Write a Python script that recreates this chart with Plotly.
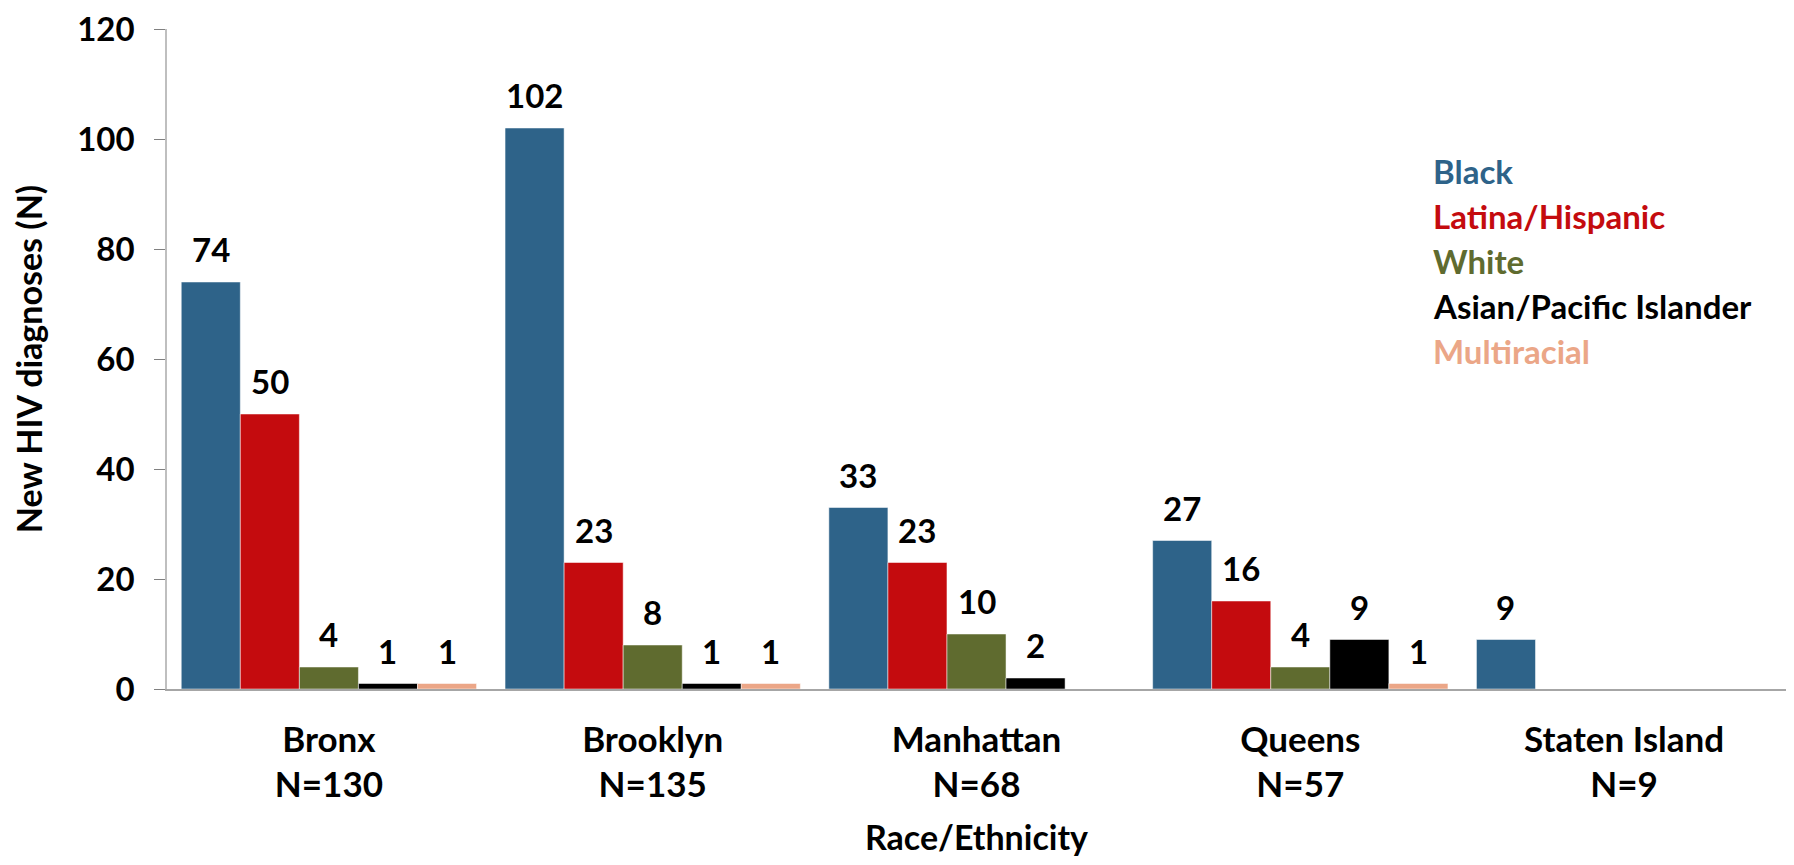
"""
New HIV diagnoses by borough and race/ethnicity - grouped bar chart.
"""
import plotly.graph_objects as go

# Data
boroughs = ['Bronx', 'Brooklyn', 'Manhattan', 'Queens', 'Staten Island']
borough_totals = [130, 135, 68, 57, 9]

series_names = ['Black', 'Latina/Hispanic', 'White', 'Asian/Pacific Islander', 'Multiracial']
black = [74, 102, 33, 27, 9]
latina = [50, 23, 23, 16, None]
white = [4, 8, 10, 4, None]
asian = [1, 1, 2, 9, None]
multiracial = [1, 1, None, 1, None]
series_values = [black, latina, white, asian, multiracial]

colors = ['#2E6389', '#C40B0E', '#5F6B2F', '#000000', '#EBA687']

FONT = 'Lato, Carlito, Calibri, sans-serif'
BARGAP = 0.088

fig = go.Figure()

for name, values, color in zip(series_names, series_values, colors):
    fig.add_trace(go.Bar(
        x=boroughs,
        y=values,
        name=name,
        marker=dict(color=color, line=dict(color='white', width=0.5)),
        showlegend=False,
    ))

# Value labels above bars (offset within each group)
annotations = []
n_series = len(series_names)
bar_w = (1 - BARGAP) / n_series
for j, values in enumerate(series_values):
    offset = -(1 - BARGAP) / 2 + bar_w * (j + 0.5)
    for i, v in enumerate(values):
        if v is None:
            continue
        annotations.append(dict(
            x=i + offset, y=v, xref='x', yref='y',
            text=f'<b>{v}</b>', showarrow=False, yshift=33,
            font=dict(family=FONT, size=33, color='black'),
        ))

# Coloured text legend
for k, (name, color) in enumerate(zip(series_names, colors)):
    annotations.append(dict(
        x=0.781, y=0.785 - k * 0.0682, xref='paper', yref='paper',
        xanchor='left', yanchor='middle',
        text=f'<b>{name}</b>', showarrow=False,
        font=dict(family=FONT, size=33, color=color),
    ))

fig.update_layout(
    barmode='group',
    bargap=BARGAP,
    bargroupgap=0,
    plot_bgcolor='white',
    paper_bgcolor='white',
    width=1778,
    height=849,
    margin=dict(l=159, r=0, t=21, b=168),
    font=dict(family=FONT, size=33, color='black'),
    annotations=annotations,
    xaxis=dict(
        tickmode='array',
        tickvals=boroughs,
        ticktext=[f'<b>{b}</b><br><b>N={n}</b>' for b, n in zip(boroughs, borough_totals)],
        showline=True, linecolor='#A6A6A6', linewidth=1.5,
        ticks='', ticklabelstandoff=19,
        tickfont=dict(family=FONT, size=35, color='black'),
        title=dict(text='<b>Race/Ethnicity</b>', standoff=42,
                   font=dict(family=FONT, size=34, color='black')),
        automargin=False,
    ),
    yaxis=dict(
        range=[0, 120], dtick=20,
        showgrid=False, zeroline=False,
        showline=True, linecolor='#BFBFBF', linewidth=1.5,
        ticks='outside', ticklen=11, tickcolor='#808080',
        ticklabelstandoff=13, ticklabeloverflow='allow',
        tickfont=dict(family=FONT, size=33, color='black'),
        tickprefix='<b>', ticksuffix='</b>',
        title=dict(text='<b>New HIV diagnoses (N)</b>', standoff=32,
                   font=dict(family=FONT, size=34, color='black')),
        automargin=False,
    ),
)

fig.write_html('out.html')
